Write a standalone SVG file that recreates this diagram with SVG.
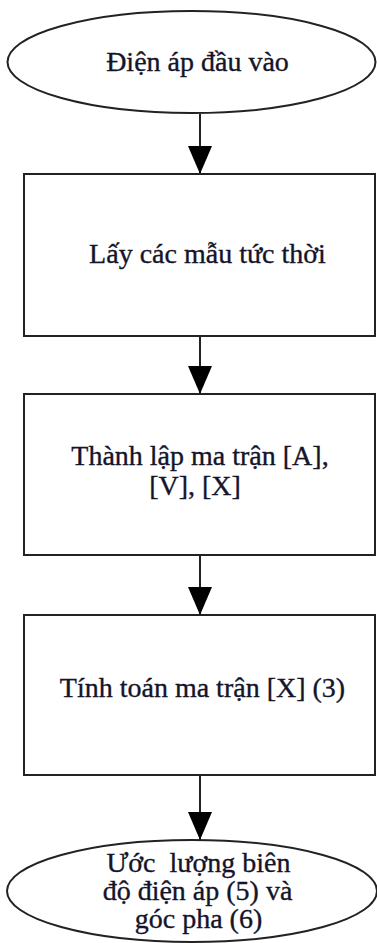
<svg xmlns="http://www.w3.org/2000/svg" width="377" height="943" viewBox="0 0 377 943">
  <style>
    .shape { fill: #ffffff; stroke: #222222; stroke-width: 2; }
    .edge { fill: none; stroke: #222222; stroke-width: 2; }
    .label { font-family: "Liberation Serif", "Times New Roman", serif; font-size: 28px; fill: #14142a; stroke: #14142a; stroke-width: 0.35; text-anchor: middle; }
  </style>
  <defs>
    <marker id="arrow" viewBox="0 0 28 24" refX="28" refY="12" markerWidth="28" markerHeight="24" markerUnits="userSpaceOnUse" orient="auto">
      <path d="M0,0 L28,12 L0,24 Z" fill="#000000"/>
    </marker>
  </defs>

  <rect width="377" height="943" fill="#ffffff"/>

  <g id="connectors">
    <line class="edge" x1="200" y1="114" x2="200" y2="174" marker-end="url(#arrow)"/>
    <line class="edge" x1="200" y1="336" x2="200" y2="394" marker-end="url(#arrow)"/>
    <line class="edge" x1="200" y1="555" x2="200" y2="615" marker-end="url(#arrow)"/>
    <line class="edge" x1="200" y1="775" x2="200" y2="840" marker-end="url(#arrow)"/>
  </g>

  <g id="input-voltage">
    <ellipse class="shape" cx="191.5" cy="62" rx="184" ry="51"/>
    <text class="label" x="197.5" y="71">Điện áp đầu vào</text>
  </g>

  <g id="take-samples">
    <rect class="shape" x="24" y="174" width="351" height="162"/>
    <text class="label" x="207.5" y="263">Lấy các mẫu tức thời</text>
  </g>

  <g id="build-matrices">
    <rect class="shape" x="24" y="394" width="351" height="161"/>
    <text class="label" x="200" y="465">Thành lập ma trận [A],</text>
    <text class="label" x="195" y="495">[V], [X]</text>
  </g>

  <g id="compute-matrix">
    <rect class="shape" x="24" y="615" width="351" height="160"/>
    <text class="label" x="202.5" y="697">Tính toán ma trận [X] (3)</text>
  </g>

  <g id="estimate-output">
    <ellipse class="shape" cx="192" cy="891" rx="185" ry="51"/>
    <text class="label" x="198.5" y="872" xml:space="preserve">Ước  lượng biên</text>
    <text class="label" x="197.5" y="900">độ điện áp (5) và</text>
    <text class="label" x="198.5" y="928">góc pha (6)</text>
  </g>
</svg>
